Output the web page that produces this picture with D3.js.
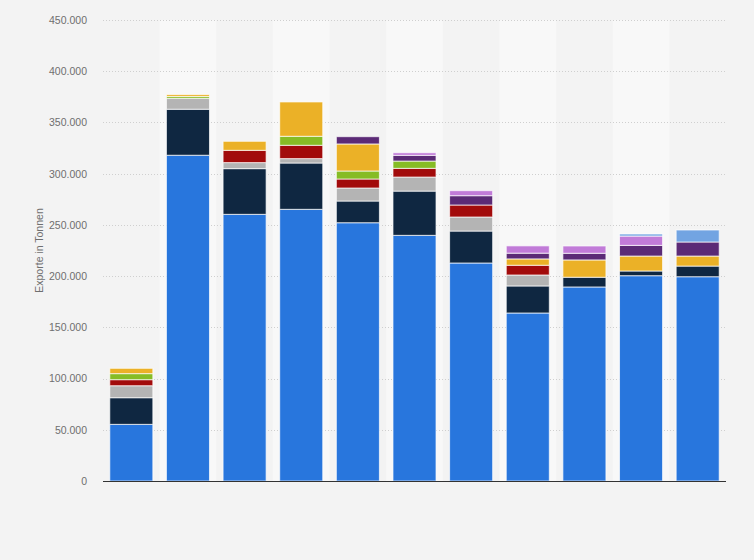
<!DOCTYPE html>
<html>
<head>
<meta charset="utf-8">
<script src="https://cdn.jsdelivr.net/npm/d3@7"></script>
<style>
html,body{margin:0;padding:0;background:#f3f3f3;}
svg{display:block;font-family:"Liberation Sans",Arial,sans-serif;}
</style>
</head>
<body>
<svg id="chart" width="754" height="560"></svg>
<script>
const categories = ["1","2","3","4","5","6","7","8","9","10","11"];
const seriesNames = ["Serie 1","Serie 2","Serie 3","Serie 4","Serie 5","Serie 6","Serie 7","Serie 8","Serie 9"];
const serie1 = [55300, 318000, 260300, 265200, 252100, 239800, 212800, 164000, 189400, 200400, 199400];
const serie2 = [26000, 44900, 44600, 45200, 21200, 43200, 31200, 26400, 9500, 4600, 10400];
const serie3 = [11700, 10700, 5900, 4300, 12700, 13700, 13700, 10700, 0, 0, 0];
const serie4 = [5900, 0, 12000, 13000, 8800, 8500, 11700, 9500, 0, 0, 0];
const serie5 = [5900, 1800, 0, 8800, 7800, 7100, 0, 0, 0, 0, 0];
const serie6 = [5200, 1800, 8800, 33500, 26400, 0, 0, 6200, 16900, 14600, 9800];
const serie7 = [0, 0, 0, 0, 7100, 5600, 9100, 5600, 6500, 10400, 13700];
const serie8 = [0, 0, 0, 0, 0, 2500, 4900, 7100, 7100, 9100, 0];
const serie9 = [0, 0, 0, 0, 0, 0, 0, 0, 0, 2000, 11700];
const yTicks = [0, 50000, 100000, 150000, 200000, 250000, 300000, 350000, 400000, 450000];
const yLabel = "Exporte in Tonnen";
const colors = ["#2876dd","#0f2741","#b4b4b4","#a20b0b","#86bc25","#ebb127","#5b2a76","#c17bd8","#72a4e2"];

const allSeries = [serie1,serie2,serie3,serie4,serie5,serie6,serie7,serie8,serie9];
const table = categories.map((c,i)=>{
  const row = {cat:c};
  seriesNames.forEach((s,j)=>row[s]=allSeries[j][i]);
  return row;
});
const stacked = d3.stack().keys(seriesNames)(table);

const svg = d3.select("#chart");
const mLeft = 103, mRight = 726, mTop = 20, mBottom = 481;
const x = d3.scaleBand().domain(categories).range([mLeft,mRight]).paddingInner(0.24).paddingOuter(0.12);
const y = d3.scaleLinear().domain([0,450000]).range([mBottom,mTop]);

// alternating bands
svg.append("g").selectAll("rect").data(categories.filter((d,i)=>i%2===1)).join("rect")
  .attr("x", d=>x(d)-x.step()*x.paddingInner()/2)
  .attr("width", x.step())
  .attr("y", mTop).attr("height", mBottom-mTop)
  .attr("fill", "#f8f8f8");

// grid
const fmt = v => d3.format(",")(v).replace(/,/g,".");
svg.append("g").selectAll("line").data(yTicks.filter(t=>t>0)).join("line")
  .attr("x1", mLeft).attr("x2", mRight)
  .attr("y1", d=>Math.round(y(d))+0.5).attr("y2", d=>Math.round(y(d))+0.5)
  .attr("stroke", "#cfcfcf").attr("stroke-dasharray","1,2");

// y axis
const yAxis = d3.axisLeft(y).tickValues(yTicks).tickFormat(fmt).tickSize(0).tickPadding(16);
const ga = svg.append("g").attr("transform",`translate(${mLeft},0)`).call(yAxis);
ga.select(".domain").remove();
ga.selectAll("text").attr("fill","#6f6f6f").attr("font-size","10.5px");

// bars
svg.append("g").selectAll("g").data(stacked).join("g")
  .attr("fill",(d,i)=>colors[i])
  .selectAll("rect").data(d=>d.filter(p=>p[1]-p[0]>0)).join("rect")
  .attr("x", d=>x(d.data.cat))
  .attr("width", x.bandwidth())
  .attr("y", d=>y(d[1]))
  .attr("height", d=>y(d[0])-y(d[1]))
  .attr("stroke","#ffffff").attr("stroke-width",1).attr("stroke-opacity",0.7);

// x axis line
svg.append("line").attr("x1",mLeft).attr("x2",mRight)
  .attr("y1",mBottom+0.5).attr("y2",mBottom+0.5)
  .attr("stroke","#333").attr("stroke-width",1.2);

// y label
svg.append("text").attr("transform",`translate(43,${(mTop+mBottom)/2}) rotate(-90)`)
  .attr("text-anchor","middle").attr("fill","#6f6f6f").attr("font-size","10.5px")
  .text(yLabel);
</script>
</body>
</html>
